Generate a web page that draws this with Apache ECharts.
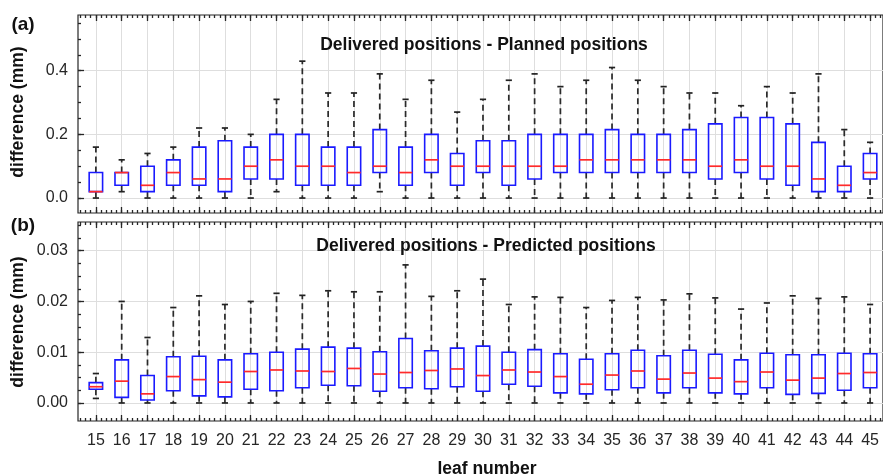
<!DOCTYPE html>
<html>
<head>
<meta charset="utf-8">
<script src="https://cdn.jsdelivr.net/npm/echarts@6/dist/echarts.min.js"></script>
<style>
  html, body { margin: 0; padding: 0; background: #ffffff; }
  #chart { width: 883px; height: 476px; }
</style>
</head>
<body>
<div id="chart"></div>
<script>
// Leaf (MLC leaf) numbers on the horizontal axis
const leaves = [15, 16, 17, 18, 19, 20, 21, 22, 23, 24, 25, 26, 27, 28, 29, 30,
                31, 32, 33, 34, 35, 36, 37, 38, 39, 40, 41, 42, 43, 44, 45];

// (a) Delivered - Planned positions (mm): whisker ends, quartiles, median
const planLow  = [0, 0.02, 0, 0, 0, 0, 0, 0.02, 0, 0, 0, 0.02, 0, 0, 0, 0,
                  0, 0, 0, 0, 0, 0, 0, 0, 0, 0, 0, 0, 0, 0, 0];
const planQ1   = [0.02, 0.04, 0.02, 0.04, 0.04, 0.02, 0.06, 0.06, 0.04, 0.04, 0.04, 0.08, 0.04, 0.08, 0.04, 0.08,
                  0.04, 0.06, 0.08, 0.08, 0.08, 0.08, 0.08, 0.08, 0.06, 0.08, 0.06, 0.04, 0.02, 0.02, 0.06];
const planMed  = [0.02, 0.08, 0.04, 0.08, 0.06, 0.06, 0.10, 0.12, 0.10, 0.10, 0.08, 0.10, 0.08, 0.12, 0.10, 0.10,
                  0.10, 0.10, 0.10, 0.12, 0.12, 0.12, 0.12, 0.12, 0.10, 0.12, 0.10, 0.10, 0.06, 0.04, 0.08];
const planQ3   = [0.08, 0.08, 0.10, 0.12, 0.16, 0.18, 0.16, 0.20, 0.20, 0.16, 0.16, 0.215, 0.16, 0.20, 0.14, 0.18,
                  0.18, 0.20, 0.20, 0.20, 0.215, 0.20, 0.20, 0.215, 0.233, 0.253, 0.253, 0.233, 0.175, 0.10, 0.14];
const planHigh = [0.16, 0.12, 0.14, 0.16, 0.22, 0.22, 0.20, 0.31, 0.43, 0.33, 0.33, 0.39, 0.31, 0.37, 0.27, 0.31,
                  0.37, 0.39, 0.35, 0.37, 0.41, 0.37, 0.35, 0.33, 0.33, 0.29, 0.35, 0.33, 0.39, 0.215, 0.175];

// (b) Delivered - Predicted positions (mm)
const predLow  = [0.0009, 0, 0, 0, 0, 0, 0, 0, 0, 0, 0, 0, 0, 0, 0, 0,
                  0, 0, 0, 0, 0, 0, 0, 0, 0, 0, 0, 0, 0, 0, 0];
const predQ1   = [0.0027, 0.0011, 0.0006, 0.0024, 0.0014, 0.0012, 0.0027, 0.0024, 0.0030, 0.0035, 0.0034, 0.0023, 0.0030, 0.0028, 0.0032, 0.0023,
                  0.0037, 0.0033, 0.0020, 0.0018, 0.0026, 0.0030, 0.0020, 0.0030, 0.0020, 0.0018, 0.0030, 0.0017, 0.0019, 0.0025, 0.0030];
const predMed  = [0.0032, 0.0043, 0.0018, 0.0052, 0.0046, 0.0041, 0.0062, 0.0065, 0.0063, 0.0062, 0.0068, 0.0057, 0.0060, 0.0064, 0.0067, 0.0054,
                  0.0065, 0.0061, 0.0052, 0.0037, 0.0055, 0.0063, 0.0047, 0.0059, 0.0049, 0.0042, 0.0061, 0.0045, 0.0049, 0.0058, 0.0060];
const predQ3   = [0.0040, 0.0085, 0.0054, 0.0091, 0.0092, 0.0085, 0.0097, 0.0100, 0.0106, 0.0110, 0.0108, 0.0101, 0.0127, 0.0103, 0.0108, 0.0112,
                  0.0100, 0.0105, 0.0097, 0.0086, 0.0097, 0.0104, 0.0093, 0.0104, 0.0096, 0.0085, 0.0098, 0.0095, 0.0095, 0.0098, 0.0097];
const predHigh = [0.0058, 0.0200, 0.0129, 0.0188, 0.0211, 0.0194, 0.0200, 0.0216, 0.0212, 0.0221, 0.0219, 0.0219, 0.0272, 0.0210, 0.0221, 0.0244,
                  0.0194, 0.0209, 0.0208, 0.0188, 0.0202, 0.0208, 0.0203, 0.0215, 0.0207, 0.0185, 0.0197, 0.0211, 0.0206, 0.0209, 0.0194];

// Tick labels
const planTicks = [0, 0.2, 0.4];
const predTicks = [0, 0.01, 0.02, 0.03];

const FONT = 'Liberation Sans, Arial, Helvetica, sans-serif';
const INK = '#262626';
const GRIDLINE = '#dedede';

const X_MIN = 14.307, X_MAX = 45.5;

function steps(start, stop, step) {
  const out = [];
  for (let k = 0; start + k * step <= stop + 1e-9; k++) {
    out.push(Math.round((start + k * step) * 1e6) / 1e6);
  }
  return out;
}
const xMinor = steps(14.4, 45.4, 0.2);
const planMinor = steps(0, 0.55, 0.05);
const predMinor = steps(0, 0.035, 0.0025);

function rows(lo, q1, md, q3, hi) {
  return leaves.map((l, i) => [l, lo[i], q1[i], md[i], q3[i], hi[i]]);
}

// Box-and-whisker glyph: dashed whiskers with caps, blue box, red median
function renderBox(params, api) {
  const x = api.value(0);
  const lo = api.coord([x, api.value(1)]);
  const q1 = api.coord([x, api.value(2)]);
  const md = api.coord([x, api.value(3)]);
  const q3 = api.coord([x, api.value(4)]);
  const hi = api.coord([x, api.value(5)]);
  const unit = api.size([1, 0])[0];
  const hw = unit * 0.26;
  const cw = unit * 0.12;
  const cx = lo[0];
  const whisker = { stroke: '#2a2a2a', lineWidth: 1.7, lineDash: [6, 4], fill: null };
  const cap = { stroke: '#222222', lineWidth: 1.7, fill: null };
  return {
    type: 'group',
    children: [
      { type: 'line', shape: { x1: cx, y1: q3[1], x2: cx, y2: hi[1] }, style: whisker },
      { type: 'line', shape: { x1: cx, y1: q1[1], x2: cx, y2: lo[1] }, style: whisker },
      { type: 'line', shape: { x1: cx - cw, y1: hi[1], x2: cx + cw, y2: hi[1] }, style: cap },
      { type: 'line', shape: { x1: cx - cw, y1: lo[1], x2: cx + cw, y2: lo[1] }, style: cap },
      { type: 'rect', shape: { x: cx - hw, y: q3[1], width: 2 * hw, height: q1[1] - q3[1] },
        style: { fill: null, stroke: '#1a1aff', lineWidth: 1.6 } },
      { type: 'line', shape: { x1: cx - hw, y1: md[1], x2: cx + hw, y2: md[1] },
        style: { stroke: '#ff2a2a', lineWidth: 1.7 } }
    ]
  };
}

const noLine = { show: false, onZero: false };
const tickStyle = { color: INK, width: 1.3 };

function xAxisSet(gridIndex, showLabels) {
  const base = { type: 'value', gridIndex, min: X_MIN, max: X_MAX, axisLine: noLine };
  return [
    Object.assign({}, base, {
      position: 'bottom',
      axisTick: { show: true, inside: true, length: 6, customValues: leaves, lineStyle: tickStyle },
      splitLine: { show: true, lineStyle: { color: GRIDLINE, width: 1 } },
      axisLabel: { show: showLabels, customValues: leaves, margin: 12, color: INK,
                   fontFamily: FONT, fontSize: 16, formatter: v => String(Math.round(v)) }
    }),
    Object.assign({}, base, {
      position: 'bottom',
      axisTick: { show: true, inside: true, length: 3, customValues: xMinor, lineStyle: tickStyle },
      splitLine: { show: false }, axisLabel: { show: false }
    }),
    Object.assign({}, base, {
      position: 'top',
      axisTick: { show: true, inside: true, length: 6, customValues: leaves, lineStyle: tickStyle },
      splitLine: { show: false }, axisLabel: { show: false }
    }),
    Object.assign({}, base, {
      position: 'top',
      axisTick: { show: true, inside: true, length: 3, customValues: xMinor, lineStyle: tickStyle },
      splitLine: { show: false }, axisLabel: { show: false }
    })
  ];
}

function yAxisSet(gridIndex, min, max, ticks, minor, digits) {
  const base = { type: 'value', gridIndex, min, max, position: 'left', axisLine: noLine };
  return [
    Object.assign({}, base, {
      axisTick: { show: true, inside: true, length: 6, customValues: ticks, lineStyle: tickStyle },
      splitLine: { show: true, lineStyle: { color: GRIDLINE, width: 1 } },
      axisLabel: { show: true, customValues: ticks, margin: 10, color: INK,
                   fontFamily: FONT, fontSize: 16, formatter: v => Number(v).toFixed(digits) }
    }),
    Object.assign({}, base, {
      axisTick: { show: true, inside: true, length: 3, customValues: minor, lineStyle: tickStyle },
      splitLine: { show: false }, axisLabel: { show: false }
    })
  ];
}

function label(text, x, y, size, opts) {
  return Object.assign({
    type: 'text', x, y, z: 100,
    style: { text, fill: '#111111', font: 'bold ' + size + 'px ' + FONT, textAlign: 'center', textVerticalAlign: 'middle' }
  }, opts || {});
}

const chart = echarts.init(document.getElementById('chart'), null, { renderer: 'canvas' });

chart.setOption({
  animation: false,
  backgroundColor: '#ffffff',
  grid: [
    { left: 78, top: 15, width: 810.7, height: 198, show: true, borderColor: INK, borderWidth: 1.2, backgroundColor: 'transparent' },
    { left: 78, top: 222, width: 810.7, height: 199, show: true, borderColor: INK, borderWidth: 1.2, backgroundColor: 'transparent' }
  ],
  xAxis: [].concat(xAxisSet(0, false), xAxisSet(1, true)),
  yAxis: [].concat(
    yAxisSet(0, -0.047, 0.575, planTicks, planMinor, 1),
    yAxisSet(1, -0.00355, 0.03565, predTicks, predMinor, 2)
  ),
  series: [
    {
      name: 'Delivered - Planned', type: 'custom', xAxisIndex: 0, yAxisIndex: 0,
      renderItem: renderBox, encode: { x: 0, y: [1, 2, 3, 4, 5] },
      data: rows(planLow, planQ1, planMed, planQ3, planHigh), z: 5
    },
    {
      name: 'Delivered - Predicted', type: 'custom', xAxisIndex: 4, yAxisIndex: 2,
      renderItem: renderBox, encode: { x: 0, y: [1, 2, 3, 4, 5] },
      data: rows(predLow, predQ1, predMed, predQ3, predHigh), z: 5
    }
  ],
  graphic: [
    label('(a)', 23, 25, 19),
    label('(b)', 23, 226, 19),
    label('Delivered positions - Planned positions', 484, 45, 17.5),
    label('Delivered positions - Predicted positions', 486, 246.5, 17.5),
    label('difference (mm)', 18, 112, 17.5, { rotation: Math.PI / 2 }),
    label('difference (mm)', 18, 322, 17.5, { rotation: Math.PI / 2 }),
    label('leaf number', 487, 469, 17.5)
  ]
});
</script>
</body>
</html>
